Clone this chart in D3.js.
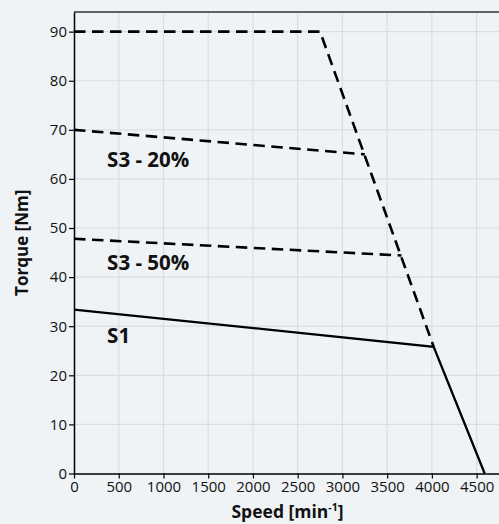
<!DOCTYPE html>
<html>
<head>
<meta charset="utf-8">
<script src="https://cdn.jsdelivr.net/npm/d3@7"></script>
<style>
  html, body { margin: 0; padding: 0; background: #eff3f6; }
  svg { display: block; font-family: "Open Sans", sans-serif; }
</style>
</head>
<body>
<svg id="chart" width="499" height="524"></svg>
<script>
// Speed axis (min^-1) and torque axis (Nm) ticks
const speedTicks = [0, 500, 1000, 1500, 2000, 2500, 3000, 3500, 4000, 4500];
const torqueTicks = [0, 10, 20, 30, 40, 50, 60, 70, 80, 90];

// Peak torque envelope (dashed)
const peakSpeed = [0, 2750, 4020];
const peakTorque = [90, 90, 25.8];

// S3 - 20% duty (dashed)
const s3_20Speed = [0, 3250];
const s3_20Torque = [70, 65];

// S3 - 50% duty (dashed)
const s3_50Speed = [0, 3660];
const s3_50Torque = [47.8, 44.4];

// S1 continuous duty (solid)
const s1Speed = [0, 4020, 4590];
const s1Torque = [33.4, 25.8, 0];

const curveNames = ["S3 - 20%", "S3 - 50%", "S1"];

const svg = d3.select("#chart");
const plotLeft = 74, plotRight = 499, plotTop = 12, plotBottom = 473.5;

const x = d3.scaleLinear().domain([0, 4750]).range([plotLeft, plotRight]);
const y = d3.scaleLinear().domain([0, 94]).range([plotBottom, plotTop]);

// grid
const grid = svg.append("g");
grid.selectAll("line.v").data(speedTicks.filter(d => d > 0)).join("line")
  .attr("class", "v")
  .attr("x1", d => x(d)).attr("x2", d => x(d))
  .attr("y1", plotTop).attr("y2", plotBottom)
  .attr("stroke", "#dcdddf").attr("stroke-width", 1.2);
grid.selectAll("line.h").data(torqueTicks.filter(d => d > 0)).join("line")
  .attr("class", "h")
  .attr("x1", plotLeft).attr("x2", plotRight)
  .attr("y1", d => y(d)).attr("y2", d => y(d))
  .attr("stroke", "#dcdddf").attr("stroke-width", 1.2);

// top frame line
svg.append("line")
  .attr("x1", plotLeft).attr("x2", plotRight).attr("y1", plotTop).attr("y2", plotTop)
  .attr("stroke", "#333").attr("stroke-width", 1.5);

// axes
const xAxis = svg.append("g")
  .attr("transform", `translate(0,${plotBottom})`)
  .call(d3.axisBottom(x).tickValues(speedTicks).tickFormat(d3.format("d"))
    .tickSize(5).tickPadding(3).tickSizeOuter(0));
const yAxis = svg.append("g")
  .attr("transform", `translate(${plotLeft},0)`)
  .call(d3.axisLeft(y).tickValues(torqueTicks).tickFormat(d3.format("d"))
    .tickSize(5).tickPadding(2).tickSizeOuter(0));
[xAxis, yAxis].forEach(a => {
  a.select(".domain").attr("stroke", "#000").attr("stroke-width", 1.5);
  a.selectAll(".tick line").attr("stroke", "#000").attr("stroke-width", 1.2);
  a.selectAll(".tick text").attr("fill", "#111")
    .style("font-family", "'Open Sans', sans-serif").style("font-size", "15px");
});

// curves
const line = d3.line().x(d => x(d[0])).y(d => y(d[1]));
const zip = (a, b) => a.map((v, i) => [v, b[i]]);
const dash = "11.5,6.5";

function drawCurve(pts, dashed, width) {
  svg.append("path")
    .attr("d", line(pts))
    .attr("fill", "none")
    .attr("stroke", "#000")
    .attr("stroke-width", width)
    .attr("stroke-linejoin", "miter")
    .attr("stroke-dasharray", dashed ? dash : null);
}
drawCurve(zip(peakSpeed, peakTorque), true, 2.6);
drawCurve(zip(s3_20Speed, s3_20Torque), true, 2.6);
drawCurve(zip(s3_50Speed, s3_50Torque), true, 2.6);
drawCurve(zip(s1Speed, s1Torque), false, 2.3);

// curve labels, placed just below the start of each curve
const labelTorque = [s3_20Torque[0], s3_50Torque[0], s1Torque[0]];
const labelDrop = [37, 31, 33];
svg.selectAll("text.curve").data(curveNames).join("text")
  .attr("class", "curve")
  .attr("x", x(370))
  .attr("y", (d, i) => y(labelTorque[i]) + labelDrop[i])
  .attr("font-size", 20.5)
  .attr("font-weight", "bold")
  .attr("fill", "#111")
  .text(d => d);

// axis titles
svg.append("text")
  .attr("transform", `translate(27.5,${(plotTop + plotBottom) / 2}) rotate(-90)`)
  .attr("text-anchor", "middle")
  .attr("font-size", 17)
  .attr("font-weight", "bold")
  .attr("fill", "#111")
  .text("Torque [Nm]");

const xt = svg.append("text")
  .attr("x", (plotLeft + plotRight) / 2 + 1)
  .attr("y", 517.5)
  .attr("text-anchor", "middle")
  .attr("font-size", 17.5)
  .attr("font-weight", "bold")
  .attr("fill", "#111");
xt.append("tspan").text("Speed [min");
xt.append("tspan").attr("dy", -6.5).attr("font-size", 10.5).text("-1");
xt.append("tspan").attr("dy", 6.5).text("]");
</script>
</body>
</html>
